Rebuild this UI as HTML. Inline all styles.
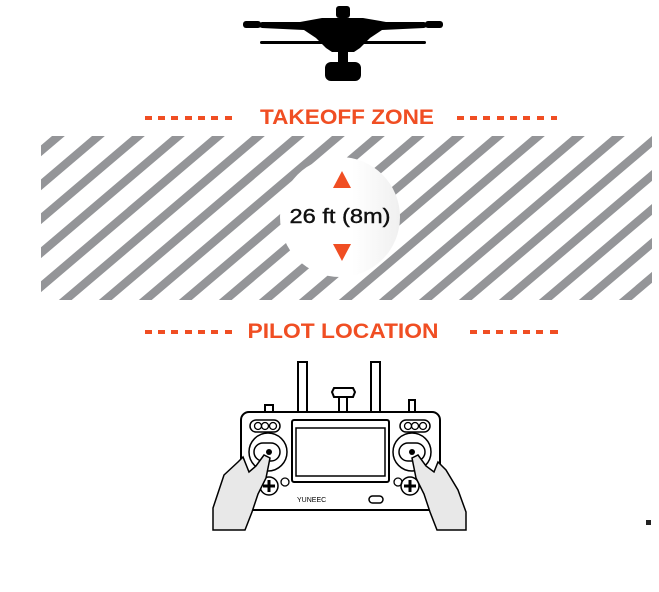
<!DOCTYPE html>
<html><head><meta charset="utf-8"><style>
html,body{margin:0;padding:0;background:#fff;}
body{width:659px;height:592px;overflow:hidden;}
svg{display:block}
</style></head><body>
<svg width="659" height="592" viewBox="0 0 659 592" xmlns="http://www.w3.org/2000/svg">
<defs>
<clipPath id="c"><rect x="41" y="136" width="611" height="164"/></clipPath>
<linearGradient id="g" x1="0" x2="1"><stop offset="0.6" stop-color="#fff"/><stop offset="1" stop-color="#f0f0f0"/></linearGradient>
</defs>
<!-- drone -->
<g fill="#000">
<rect x="336" y="6" width="14" height="12" rx="3"/>
<path d="M262 22 L300 22 L322 18 L363 18 L386 22 L424 22 L432 25 L424 28 L382 30 L370 38 L360 48 L354 52 L332 52 L326 48 L316 38 L304 30 L262 28 L254 25 Z"/>
<rect x="260" y="41" width="66" height="3" rx="1.5"/>
<rect x="360" y="41" width="66" height="3" rx="1.5"/>
<rect x="338" y="50" width="10" height="12"/>
<rect x="325" y="62" width="36" height="19" rx="6"/>
<rect x="243" y="21" width="18" height="7" rx="3"/>
<rect x="425" y="21" width="18" height="7" rx="3"/>
</g>
<!-- labels -->
<g fill="#f04e23">
<g id="d"><rect x="145" y="116" width="7" height="4"/><rect x="158" y="116" width="7" height="4"/><rect x="171" y="116" width="7" height="4"/><rect x="185" y="116" width="7" height="4"/><rect x="198" y="116" width="7" height="4"/><rect x="211" y="116" width="7" height="4"/><rect x="225" y="116" width="7" height="4"/></g>
<use href="#d" x="312"/>
<rect x="551" y="116" width="6" height="4"/>
<use href="#d" y="214"/>
<use href="#d" x="325" y="214"/>
<rect x="552" y="330" width="6" height="4"/>
</g>
<text x="347" y="124" font-family="Liberation Sans, sans-serif" font-weight="bold" font-size="21" fill="#f04e23" text-anchor="middle" textLength="174" lengthAdjust="spacingAndGlyphs">TAKEOFF ZONE</text>
<text x="343" y="338" font-family="Liberation Sans, sans-serif" font-weight="bold" font-size="21" fill="#f04e23" text-anchor="middle" textLength="191" lengthAdjust="spacingAndGlyphs">PILOT LOCATION</text>
<!-- stripes -->
<g clip-path="url(#c)" stroke="#949598" stroke-width="8.3">
<line x1="25.5" y1="130" x2="-181.8" y2="306"/><line x1="65.5" y1="130" x2="-141.8" y2="306"/><line x1="105.5" y1="130" x2="-101.8" y2="306"/><line x1="145.5" y1="130" x2="-61.8" y2="306"/><line x1="185.5" y1="130" x2="-21.8" y2="306"/><line x1="225.5" y1="130" x2="18.2" y2="306"/><line x1="265.5" y1="130" x2="58.2" y2="306"/><line x1="305.5" y1="130" x2="98.2" y2="306"/><line x1="345.5" y1="130" x2="138.2" y2="306"/><line x1="385.5" y1="130" x2="178.2" y2="306"/><line x1="425.5" y1="130" x2="218.2" y2="306"/><line x1="465.5" y1="130" x2="258.2" y2="306"/><line x1="505.5" y1="130" x2="298.2" y2="306"/><line x1="545.5" y1="130" x2="338.2" y2="306"/><line x1="585.5" y1="130" x2="378.2" y2="306"/><line x1="625.5" y1="130" x2="418.2" y2="306"/><line x1="665.5" y1="130" x2="458.2" y2="306"/><line x1="705.5" y1="130" x2="498.2" y2="306"/><line x1="745.5" y1="130" x2="538.2" y2="306"/><line x1="785.5" y1="130" x2="578.2" y2="306"/><line x1="825.5" y1="130" x2="618.2" y2="306"/><line x1="865.5" y1="130" x2="658.2" y2="306"/>
</g>
<circle cx="340" cy="217" r="60" fill="url(#g)"/>
<polygon points="342,171 351,188 333,188" fill="#f04e23"/>
<polygon points="333,244 351,244 342,261" fill="#f04e23"/>
<text x="340" y="223" font-family="Liberation Sans, sans-serif" font-size="20" fill="#111" stroke="#111" stroke-width="0.4" text-anchor="middle" textLength="101" lengthAdjust="spacingAndGlyphs">26 ft (8m)</text>
<!-- controller -->
<g fill="none" stroke="#000" stroke-width="2">
<rect x="298" y="362" width="9" height="50" fill="#fff"/>
<rect x="371" y="362" width="9" height="50" fill="#fff"/>
<rect x="339" y="397" width="8" height="15"/>
<path d="M334 388 L353 388 L355 392 L353 397 L334 397 L332 392 Z"/>
<rect x="265" y="405" width="8" height="7"/>
<rect x="409" y="400" width="6" height="12"/>
<rect x="241" y="412" width="199" height="98" rx="8" fill="#fff"/>
<rect x="292" y="420" width="97" height="62" rx="2"/>
<rect x="296" y="428" width="89" height="48" stroke-width="1.5"/>
<rect x="250" y="420" width="30" height="12" rx="6" stroke-width="1.5"/>
<circle cx="258" cy="426" r="3.5" stroke-width="1.3"/><circle cx="265" cy="426" r="3.5" stroke-width="1.3"/><circle cx="273" cy="426" r="3.5" stroke-width="1.3"/>
<rect x="400" y="420" width="30" height="12" rx="6" stroke-width="1.5"/>
<circle cx="408" cy="426" r="3.5" stroke-width="1.3"/><circle cx="415" cy="426" r="3.5" stroke-width="1.3"/><circle cx="423" cy="426" r="3.5" stroke-width="1.3"/>
<circle cx="268" cy="452" r="19" stroke-width="1.5"/><rect x="254" y="443" width="26" height="18" rx="9" stroke-width="1.5"/>
<circle cx="412" cy="452" r="19" stroke-width="1.5"/><rect x="399" y="443" width="26" height="18" rx="9" stroke-width="1.5"/>
<circle cx="269" cy="486" r="9" stroke-width="1.5"/><circle cx="285" cy="482" r="4" stroke-width="1.3"/>
<circle cx="410" cy="486" r="9" stroke-width="1.5"/><circle cx="398" cy="482" r="4" stroke-width="1.3"/>
<path d="M263 486 h12 M269 480 v12" stroke-width="3"/>
<path d="M404 486 h12 M410 480 v12" stroke-width="3"/>
<rect x="369" y="496" width="14" height="7" rx="3.5" stroke-width="1.5"/>
</g>
<circle cx="269" cy="452" r="3" fill="#000"/><circle cx="412" cy="452" r="3" fill="#000"/>
<text x="297" y="502" font-family="Liberation Sans, sans-serif" font-size="7" fill="#000">YUNEEC</text>
<!-- hands -->
<path d="M243 457 L238 462 L224 475 L213 508 L213 530 L245 530 L252 512 L258 494 L266 478 L270 458 L264 455 L256 466 L249 472 Z" fill="#e8e8e8" stroke="#000" stroke-width="1.5"/>
<path d="M438 462 L446 470 L458 490 L466 512 L466 530 L437 530 L430 512 L424 494 L416 478 L412 458 L418 455 L426 466 L434 472 Z" fill="#e8e8e8" stroke="#000" stroke-width="1.5"/>
<rect x="646" y="520" width="5" height="5" fill="#222"/>
</svg>
</body></html>
